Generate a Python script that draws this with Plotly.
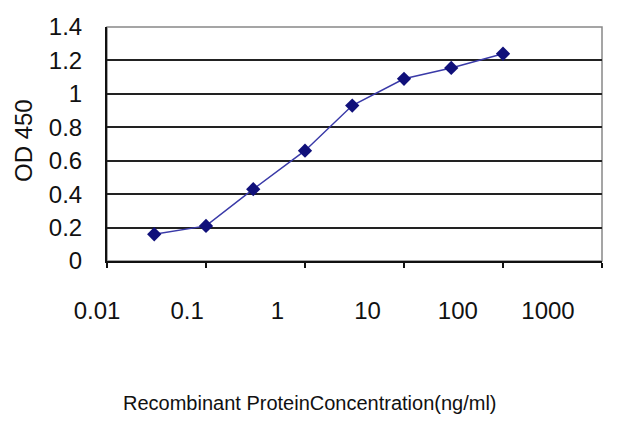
import plotly.graph_objects as go

concentration = [0.03, 0.1, 0.3, 1, 3, 10, 30, 100]
od450 = [0.16, 0.21, 0.43, 0.66, 0.93, 1.09, 1.155, 1.24]

x_tickvals = [0.01, 0.1, 1, 10, 100, 1000]
x_ticktext = ["0.01", "0.1", "1", "10", "100", "1000"]
y_tickvals = [0, 0.2, 0.4, 0.6, 0.8, 1, 1.2, 1.4]
y_ticktext = ["0", "0.2", "0.4", "0.6", "0.8", "1", "1.2", "1.4"]
x_title = "Recombinant ProteinConcentration(ng/ml)"
y_title = "OD 450"

font_family = "Liberation Sans, Arial, sans-serif"

# screen layout (page body adds an 8px offset)
OFF = 8
PL, PR, PT, PB = 97, 602, 27, 261   # paper area on screen
PLOT_L = 107                         # plot-area left edge on screen
LABEL_R = 548                        # centre of last decade label on screen


def fx(sx):
    return (sx - PL) / (PR - PL)


def fy(sy):
    return (PB - sy) / (PB - PT)


fig = go.Figure()
fig.add_trace(go.Scatter(
    x=concentration, y=od450, mode="lines+markers",
    line=dict(color="#3a3aa8", width=1.5),
    marker=dict(symbol="diamond", size=11, color="#10107a"),
    showlegend=False,
))
# label-only axis: the original chart's decade labels sit slightly compressed
fig.add_trace(go.Scatter(
    x=x_tickvals, y=[None] * len(x_tickvals), xaxis="x2", yaxis="y2",
    mode="markers", showlegend=False, hoverinfo="skip",
))

fig.update_layout(
    width=640, height=427,
    margin=dict(l=PL - OFF, r=640 - (PR - OFF), t=PT - OFF, b=427 - (PB - OFF)),
    paper_bgcolor="white", plot_bgcolor="rgba(0,0,0,0)",
    font=dict(family=font_family, color="#111"),
    shapes=[dict(type="rect", xref="x domain", yref="y domain",
                 x0=0, x1=1, y0=0, y1=1,
                 line=dict(color="#888", width=1.5), layer="below")],
    xaxis=dict(
        type="log", range=[-2, 3], domain=[fx(PLOT_L), 1],
        tickvals=x_tickvals, showticklabels=False,
        ticks="outside", ticklen=5, tickwidth=1.5, tickcolor="#111",
        showline=True, linecolor="#111", linewidth=2,
        showgrid=False, zeroline=False, automargin=False,
    ),
    xaxis2=dict(
        type="log", range=[-2, 3], domain=[0, fx(LABEL_R)],
        side="bottom", anchor="y2",
        tickvals=x_tickvals, ticktext=x_ticktext,
        ticks="", showline=False, showgrid=False, zeroline=False,
        automargin=False,
        tickfont=dict(size=24, family=font_family, color="#111"),
        ticklabelstandoff=33,
    ),
    yaxis=dict(
        range=[0, 1.4], anchor="x",
        tickvals=y_tickvals, ticktext=y_ticktext,
        ticks="", showline=True, linecolor="#111", linewidth=2,
        showgrid=True, gridcolor="#222", gridwidth=2,
        zeroline=False, automargin=False,
        tickfont=dict(size=24, family=font_family, color="#111"),
        ticklabelstandoff=18,
    ),
    yaxis2=dict(
        range=[0, 1], domain=[0, 1], anchor="x2", visible=False,
        showgrid=False, zeroline=False, automargin=False,
    ),
    annotations=[
        dict(text=x_title, xref="paper", yref="paper",
             x=fx(310), y=fy(403),
             xanchor="center", yanchor="middle", showarrow=False,
             font=dict(size=20, family=font_family, color="#111")),
        dict(text=y_title, xref="paper", yref="paper",
             x=fx(23), y=fy(141), textangle=-90,
             xanchor="center", yanchor="middle", showarrow=False,
             font=dict(size=24, family=font_family, color="#111")),
    ],
)

fig.write_html("out.html")
